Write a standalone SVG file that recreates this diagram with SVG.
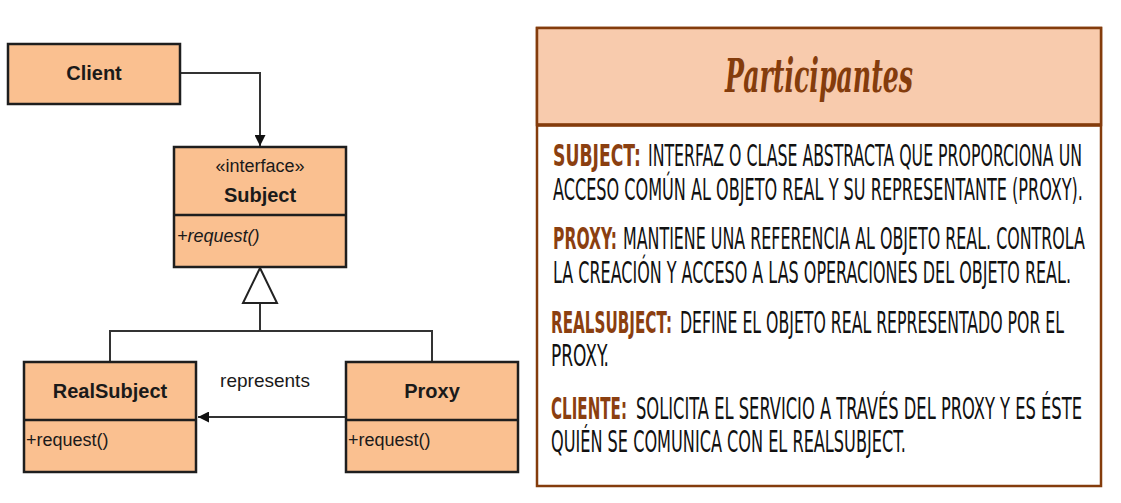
<svg xmlns="http://www.w3.org/2000/svg" width="1121" height="503" viewBox="0 0 1121 503">
<defs>
<style>
.uml{fill:#FAC090;stroke:#1e1e1e;stroke-width:2.5}
.ln{fill:none;stroke:#333;stroke-width:2}
.t{font-family:"Liberation Sans",Arial,sans-serif;fill:#1a1a1a}
.b{font-weight:bold;font-size:20px}
.r{font-size:18px}
.hand{font-family:"Liberation Sans Narrow","DejaVu Sans Condensed","Liberation Sans",sans-serif;font-size:19px;fill:#111}
.lab{fill:#8B3F10;font-weight:bold}
</style>
<marker id="fa" viewBox="0 0 10 10" refX="10" refY="5" markerWidth="11" markerHeight="11" markerUnits="userSpaceOnUse" orient="auto">
<path d="M0,0 L10,5 L0,10 z" fill="#111"/>
</marker>
</defs>
<rect width="1121" height="503" fill="#fff"/>
<g id="connectors">
<path class="ln" d="M180,73 H260 V146" marker-end="url(#fa)"/>
<path class="ln" d="M260,303 V331 M110,362 V331 H432 V362"/>
<path d="M260,268 L277,303 L243,303 z" fill="#fff" stroke="#222" stroke-width="2"/>
<path class="ln" d="M346,417 H198" marker-end="url(#fa)"/>
<text class="t" x="265" y="387" font-size="19" text-anchor="middle" fill="#333">represents</text>
</g>
<g id="client">
<rect class="uml" x="8" y="44" width="172" height="60"/>
<text class="t b" x="94" y="80" text-anchor="middle">Client</text>
</g>
<g id="subject">
<rect class="uml" x="174" y="147" width="172" height="120"/>
<line x1="174" y1="215" x2="346" y2="215" stroke="#1e1e1e" stroke-width="2.5"/>
<text class="t r" x="260" y="172" text-anchor="middle">«interface»</text>
<text class="t b" x="260" y="202" text-anchor="middle">Subject</text>
<text class="t r" x="177" y="242" font-style="italic">+request()</text>
</g>
<g id="realsubject">
<rect class="uml" x="24" y="362" width="172" height="110"/>
<line x1="24" y1="420" x2="196" y2="420" stroke="#1e1e1e" stroke-width="2.5"/>
<text class="t b" x="110" y="398" text-anchor="middle">RealSubject</text>
<text class="t r" x="26" y="446">+request()</text>
</g>
<g id="proxy">
<rect class="uml" x="346" y="362" width="172" height="110"/>
<line x1="346" y1="420" x2="518" y2="420" stroke="#1e1e1e" stroke-width="2.5"/>
<text class="t b" x="432" y="398" text-anchor="middle">Proxy</text>
<text class="t r" x="348" y="446">+request()</text>
</g>
<g id="participantes">
<rect x="537" y="28" width="564" height="458" fill="#fff" stroke="#843C0C" stroke-width="2.5"/>
<rect x="537" y="28" width="564" height="97" fill="#F8CBAD" stroke="#843C0C" stroke-width="2.5"/>
<line x1="537" y1="125" x2="1101" y2="125" stroke="#843C0C" stroke-width="3.5"/>
<text x="725" y="92" textLength="188" lengthAdjust="spacingAndGlyphs" font-family="'DejaVu Serif','Liberation Serif',serif" font-style="italic" font-weight="bold" font-size="46" fill="#843C0C">Participantes</text>
<g transform="translate(0,166) scale(1,1.6)">
<text class="hand lab" x="553" y="0" textLength="88" lengthAdjust="spacingAndGlyphs">SUBJECT:</text>
<text class="hand" x="648" y="0" textLength="434" lengthAdjust="spacingAndGlyphs">INTERFAZ O CLASE ABSTRACTA QUE PROPORCIONA UN</text>
</g>
<g transform="translate(0,200) scale(1,1.6)">
<text class="hand" x="553" y="0" textLength="530" lengthAdjust="spacingAndGlyphs">ACCESO COMÚN AL OBJETO REAL Y SU REPRESENTANTE (PROXY).</text>
</g>
<g transform="translate(0,249) scale(1,1.6)">
<text class="hand lab" x="553" y="0" textLength="64" lengthAdjust="spacingAndGlyphs">PROXY:</text>
<text class="hand" x="623" y="0" textLength="462" lengthAdjust="spacingAndGlyphs">MANTIENE UNA REFERENCIA AL OBJETO REAL. CONTROLA</text>
</g>
<g transform="translate(0,283) scale(1,1.6)">
<text class="hand" x="553" y="0" textLength="518" lengthAdjust="spacingAndGlyphs">LA CREACIÓN Y ACCESO A LAS OPERACIONES DEL OBJETO REAL.</text>
</g>
<g transform="translate(0,333) scale(1,1.6)">
<text class="hand lab" x="551" y="0" textLength="121" lengthAdjust="spacingAndGlyphs">REALSUBJECT:</text>
<text class="hand" x="680" y="0" textLength="384" lengthAdjust="spacingAndGlyphs">DEFINE EL OBJETO REAL REPRESENTADO POR EL</text>
</g>
<g transform="translate(0,366) scale(1,1.6)">
<text class="hand" x="551" y="0" textLength="58" lengthAdjust="spacingAndGlyphs">PROXY.</text>
</g>
<g transform="translate(0,419) scale(1,1.6)">
<text class="hand lab" x="551" y="0" textLength="76" lengthAdjust="spacingAndGlyphs">CLIENTE:</text>
<text class="hand" x="636" y="0" textLength="446" lengthAdjust="spacingAndGlyphs">SOLICITA EL SERVICIO A TRAVÉS DEL PROXY Y ES ÉSTE</text>
</g>
<g transform="translate(0,452) scale(1,1.6)">
<text class="hand" x="551" y="0" textLength="355" lengthAdjust="spacingAndGlyphs">QUIÉN SE COMUNICA CON EL REALSUBJECT.</text>
</g>
</g>
</svg>
